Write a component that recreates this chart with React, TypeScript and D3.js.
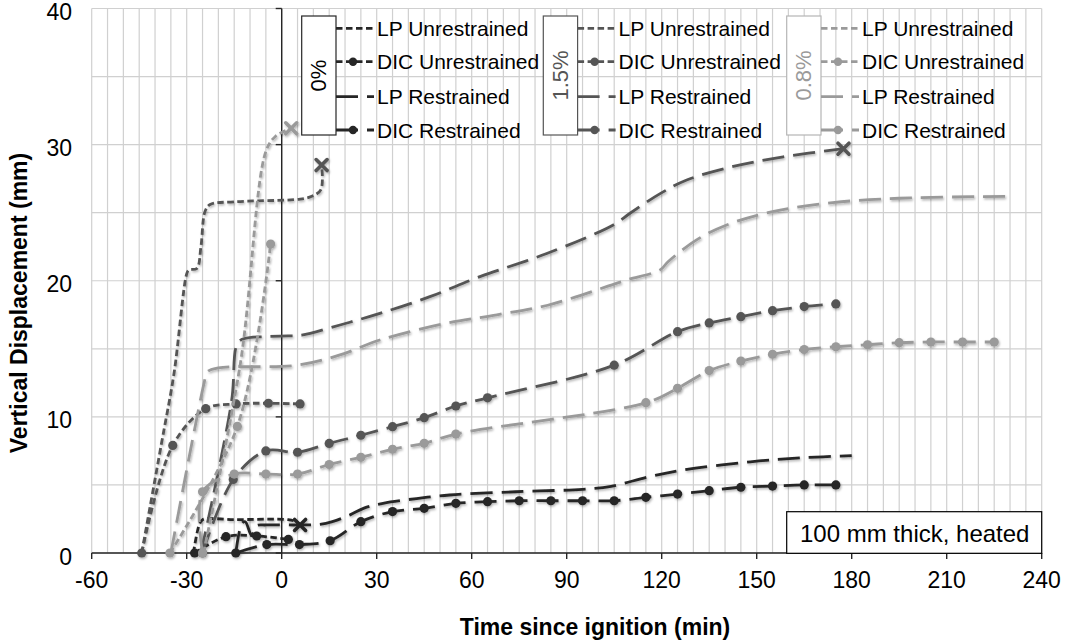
import * as d3 from 'd3'
import React from 'react'

const W = 1065
const H = 641

// axis ticks
const xTicks = [-60, -30, 0, 30, 60, 90, 120, 150, 180, 210, 240]
const yTicks = [0, 10, 20, 30, 40]

// [time (min), displacement (mm)] -- 0 %
const lpUnr0 = [[-27.9, 0], [-26, 2.1], [-25, 2.45], [-15, 2.45], [2, 2.45], [4.5, 2.3], [5.8, 2.06]]
const dicUnr0 = [[-27.5, 0], [-17.6, 1.2], [-7.9, 1.25], [2.1, 1.0]]
const lpRes0 = [[-14.5, 0], [-12.5, 2.2], [-11.5, 2.3], [-9.5, 1.3], [-8, 2.0], [-5, 2.06], [5, 2.06], [12, 2.1], [16, 2.3], [21.6, 2.8], [26, 3.3], [32, 3.65], [42.6, 4.0], [53, 4.26], [74, 4.5], [95, 4.68], [104, 4.9], [116, 5.6], [127, 6.1], [148, 6.7], [165, 7.0], [180, 7.15]]
const dicRes0 = [[-14.5, 0], [-4.7, 0.62], [5.6, 0.62], [15.3, 0.9], [25, 2.3], [35, 3.04], [45, 3.28], [55, 3.65], [65, 3.77], [75, 3.84], [85, 3.84], [95, 3.84], [105, 3.84], [115, 4.09], [125, 4.33], [135, 4.58], [145, 4.83], [155, 4.92], [165, 5.0], [175, 5.0]]

// 1.5 %
const lpUnr15 = [[-44.2, 0], [-38, 8], [-34, 13.2], [-30, 20.5], [-29.3, 20.8], [-26.8, 20.9], [-25.5, 22.5], [-24.2, 25.1], [-22.6, 25.6], [-15, 25.8], [5.8, 26.0], [9.5, 26.2], [12.4, 26.7], [12.6, 28.5]]
const dicUnr15 = [[-44.2, 0], [-34.4, 7.9], [-24, 10.6], [-14.4, 10.95], [-4.2, 11.0], [5.8, 10.95]]
const lpRes15 = [[-25.5, 0], [-15.8, 11.2], [-14.3, 15.2], [-12.5, 15.7], [-5, 15.9], [2, 15.95], [6.3, 16.0], [18.4, 16.75], [31, 17.6], [46.8, 18.83], [62.6, 20.3], [83.7, 22.0], [104.7, 24.1], [110, 24.96], [119.5, 26.4], [127.9, 27.4], [142.6, 28.4], [158.4, 29.1], [177.4, 29.7]]
const dicRes15 = [[-25, 0], [-15.3, 5.4], [-5, 7.5], [5, 7.4], [15, 8.05], [25, 8.65], [35, 9.28], [45, 9.94], [55, 10.8], [65, 11.4], [105, 13.8], [125, 16.26], [135, 16.9], [145, 17.36], [155, 17.8], [165, 18.1], [175, 18.3]]

// 0.8 %
const lpUnr08 = [[-24.7, 0], [-13, 14], [-5, 29.5], [-2, 30.6], [3, 31.2]]
const dicUnr08 = [[-35.3, 0], [-14, 9.3], [-3.5, 22.7]]
const lpRes08 = [[-35, 0], [-24.5, 12.5], [-23.5, 13.3], [-20, 13.6], [5, 13.8], [18.4, 14.55], [31, 15.65], [52, 16.88], [68, 17.5], [84, 18.2], [103, 19.6], [109, 20.06], [119.5, 20.8], [122, 21.4], [131, 23], [140.5, 24.1], [155, 25.08], [174, 25.74], [195, 26.06], [229, 26.2]]
const dicRes08 = [[-25, 0], [-25, 4.5], [-15, 5.8], [-5, 5.8], [5, 5.8], [15, 6.5], [25, 7.03], [35, 7.62], [45, 8.06], [55, 8.74], [115, 11.04], [125, 12.1], [135, 13.4], [145, 14.1], [155, 14.6], [165, 14.95], [175, 15.15], [185, 15.3], [195, 15.45], [205, 15.5], [215, 15.5], [225, 15.5]]

const groupLabels = ['0%', '1.5%', '0.8%']
const entryNames = ['LP Unrestrained', 'DIC Unrestrained', 'LP Restrained', 'DIC Restrained']
const colors = ['#262626', '#555555', '#9a9a9a']
const boxStroke = ['#262626', '#555555', '#b5b5b5']

const SHORT = '6.5 3.5'
const LONG = '22 9'
const FONT = 'Arial, "Liberation Sans", sans-serif'

const x = d3.scaleLinear().domain([-60, 240]).range([91.7, 1041.7])
const y = d3.scaleLinear().domain([0, 40]).range([553, 8.5])

const line = d3.line<number[]>()
  .x(d => x(d[0]))
  .y(d => y(d[1]))
  .curve(d3.curveCatmullRom.alpha(0.5))

// per group: LP unr, DIC unr, LP res, DIC res
const groups = [
  [lpUnr0, dicUnr0, lpRes0, dicRes0],
  [lpUnr15, dicUnr15, lpRes15, dicRes15],
  [lpUnr08, dicUnr08, lpRes08, dicRes08],
]
const styles = [
  { dash: SHORT, dots: false },
  { dash: SHORT, dots: true },
  { dash: LONG, dots: false },
  { dash: LONG, dots: true },
]
// which series end with a failure cross
const crosses = [[true, false, false, false], [true, false, true, false], [true, false, false, false]]

const legendBoxX = [301.7, 543.3, 786.7]
const legendRowY = [28.3, 61.7, 96.7, 130]

const Cross = ({ cx, cy, color }) => (
  <g stroke={color} strokeWidth={3.6} strokeLinecap="round">
    <line x1={cx - 5.5} y1={cy - 5.5} x2={cx + 5.5} y2={cy + 5.5} />
    <line x1={cx - 5.5} y1={cy + 5.5} x2={cx + 5.5} y2={cy - 5.5} />
  </g>
)

const App = () => {
  const vGrid = d3.range(-60, 241, 5)
  const hGrid = d3.range(0, 41, 5)
  return (
    <svg width={W} height={H} style={{ position: 'absolute', left: 0, top: 0, background: '#fff' }} fontFamily={FONT}>
      <defs>
        <filter id="sh" x="-20%" y="-20%" width="140%" height="140%">
          <feDropShadow dx="1" dy="1.5" stdDeviation="1.2" floodColor="#000" floodOpacity="0.3" />
        </filter>
      </defs>
      <rect width={W} height={H} fill="#fff" />

      {/* grid */}
      <g stroke="#d0d0d0" strokeWidth={1.2}>
        {vGrid.map(t => <line key={'v' + t} x1={x(t)} x2={x(t)} y1={y(40)} y2={y(0)} />)}
        {hGrid.map(v => <line key={'h' + v} x1={x(-60)} x2={x(240)} y1={y(v)} y2={y(v)} />)}
      </g>

      {/* axes */}
      <g stroke="#262626" strokeWidth={1.4}>
        <line x1={x(0)} x2={x(0)} y1={y(0)} y2={y(40)} />
        {yTicks.map(v => <line key={'yt' + v} x1={x(0) - 6} x2={x(0)} y1={y(v)} y2={y(v)} />)}
        <line x1={x(-60)} x2={x(240)} y1={y(0)} y2={y(0)} />
        {xTicks.map(t => <line key={'xt' + t} x1={x(t)} x2={x(t)} y1={y(0)} y2={y(0) + 6} />)}
      </g>
      <g fontSize={23} fill="#000">
        {yTicks.map(v => (
          <text key={'yl' + v} x={72} y={y(v) + 3.5} textAnchor="end" dominantBaseline="central">{v}</text>
        ))}
        {xTicks.map(t => (
          <text key={'xl' + t} x={x(t)} y={580} textAnchor="middle" dominantBaseline="central">{t}</text>
        ))}
      </g>
      <text x={595} y={635} textAnchor="middle" fontSize={23} fontWeight="bold">Time since ignition (min)</text>
      <text transform="translate(27,303) rotate(-90)" textAnchor="middle" fontSize={23} fontWeight="bold">Vertical Displacement (mm)</text>

      {/* series */}
      <g filter="url(#sh)">
        {groups.map((g, gi) => g.map((data, si) => (
          <g key={gi + '-' + si}>
            <path d={line(data)} fill="none" stroke={colors[gi]} strokeWidth={2.8} strokeDasharray={styles[si].dash} />
            {styles[si].dots && data.map((d, i) => (
              <circle key={i} cx={x(d[0])} cy={y(d[1])} r={4.6} fill={colors[gi]} />
            ))}
            {crosses[gi][si] && (
              <Cross cx={x(data[data.length - 1][0])} cy={y(data[data.length - 1][1])} color={colors[gi]} />
            )}
          </g>
        )))}
      </g>

      {/* legends */}
      {groupLabels.map((lab, gi) => {
        const bx = legendBoxX[gi]
        const br = bx + 34.3
        return (
          <g key={'lg' + gi}>
            <rect x={bx} y={16} width={34.3} height={119} fill="#fff" stroke={boxStroke[gi]} strokeWidth={1.2} />
            <text transform={`translate(${bx + 17},75.5) rotate(-90)`} textAnchor="middle" dominantBaseline="central" fontSize={22} fill={gi === 0 ? '#000' : colors[gi]}>{lab}</text>
            {entryNames.map((name, si) => (
              <g key={name}>
                <line x1={br} x2={br + 38} y1={legendRowY[si]} y2={legendRowY[si]} stroke={colors[gi]} strokeWidth={2.8} strokeDasharray={styles[si].dash} />
                {styles[si].dots && <circle cx={br + 17} cy={legendRowY[si]} r={4.2} fill={colors[gi]} />}
                <text x={br + 41} y={legendRowY[si]} dominantBaseline="central" fontSize={21} fill="#000">{name}</text>
              </g>
            ))}
          </g>
        )
      })}

      {/* note */}
      <rect x={786.7} y={511.7} width={255} height={41.6} fill="#fff" stroke="#000" strokeWidth={1.2} />
      <text x={800} y={533} dominantBaseline="central" fontSize={24}>100 mm thick, heated</text>
    </svg>
  )
}

export default App
